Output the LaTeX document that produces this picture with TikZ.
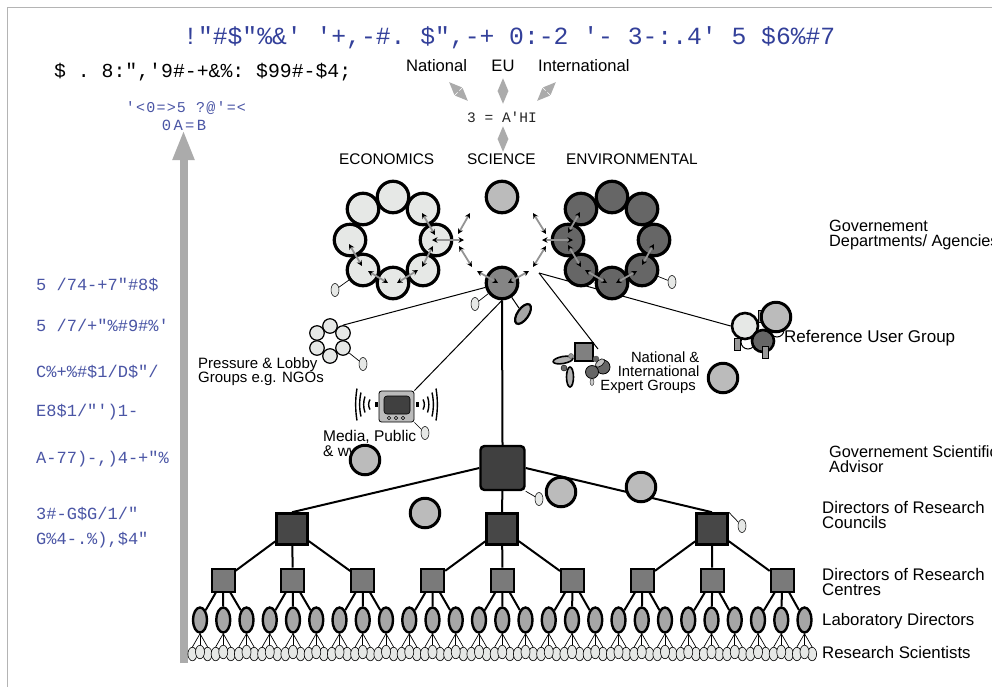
\documentclass[tikz,border=0pt]{standalone}
\usepackage{fontspec}
\setmainfont{Liberation Sans}
\newfontfamily\monof{Liberation Mono}
\newfontfamily\monoa[LetterSpace=8]{Liberation Mono}
\newfontfamily\monob[LetterSpace=15]{Liberation Mono}
\usetikzlibrary{arrows.meta,backgrounds,shapes.geometric}
\definecolor{tblue}{HTML}{33409A}
\definecolor{lblue}{HTML}{4A55A5}
\definecolor{frameg}{HTML}{B4B4B4}
\definecolor{arrowg}{HTML}{ABABAB}
\definecolor{ringl}{HTML}{E6E8E6}
\definecolor{ringd}{HTML}{666666}
\definecolor{neutral}{HTML}{BBBBBB}
\newcommand\fs[1]{\fontsize{#1pt}{#1pt}\selectfont}
\newcommand\smallarr[5]{\coordinate (#1a) at (#2,#3); \coordinate (#1b) at (#4,#5); \draw[dblsmall] (#1a) -- (#1b);}
\newcommand\grayarr[5]{\coordinate (#1a) at (#2,#3); \coordinate (#1b) at (#4,#5); \draw[dblgray] (#1a) -- (#1b);}
\tikzset{
  lab/.style={inner sep=0pt,anchor=base west,align=left,text=black},
  monotext/.style={inner sep=0pt,anchor=base west,font=\monof},
  bigc/.style={circle,draw=black,line width=3.2pt,minimum size=31.5pt,inner sep=0pt},
  ringlight/.style={bigc,fill=ringl},
  ringdark/.style={bigc,fill=ringd},
  neut/.style={circle,draw=black,line width=3pt,minimum size=29.5pt,inner sep=0pt,fill=neutral},
  tiny/.style={ellipse,draw=black,line width=.5pt,fill=ringl,minimum width=8pt,minimum height=13pt,inner sep=0pt},
  grp/.style={circle,draw=black,line width=1.2pt,fill=ringl,minimum size=14.5pt,inner sep=0pt},
  dirbox/.style={rectangle,draw=black,line width=2.6pt,fill=black!72,minimum size=31pt,inner sep=0pt},
  centbox/.style={rectangle,draw=black,line width=2pt,fill=black!52,minimum size=23pt,inner sep=0pt},
  labell/.style={ellipse,draw=black,line width=2.4pt,fill=black!35,minimum width=14pt,minimum height=25pt,inner sep=0pt},
  sci/.style={ellipse,draw=black,line width=.6pt,fill=ringl,minimum width=9pt,minimum height=13.5pt,inner sep=0pt},
  dblsmall/.style={line width=1.8pt,draw=black!42,{Stealth[black,length=5.5pt,width=5.5pt]}-{Stealth[black,length=5.5pt,width=5.5pt]}},
  dblgray/.style={line width=2.4pt,draw=arrowg,{Triangle[length=13pt,width=10pt]}-{Triangle[length=13pt,width=10pt]}},
  thickln/.style={line width=2pt,draw=black},
  thinln/.style={line width=1pt,draw=black},
  hairln/.style={line width=.7pt,draw=black},
  wave/.style={line width=1.4pt,draw=black}
}
\begin{document}
\begin{tikzpicture}[x=1pt,y=-1pt]
\clip (0,0) rectangle (992,686);
\begin{pgfonlayer}{background}
\fill[white] (0,0) rectangle (992,686);
\end{pgfonlayer}
\draw[frameg,line width=1.3pt] (7.5,700) -- (7.5,7.5) -- (1000,7.5);

% headings (text as printed)
\node[monotext,text=tblue,font=\monof\fs{24.7}] (title) at (183,44) {!"\#\$"\%\&'~'+,-\#.~\$",-+~0:-2~'-~3-:.4'~5~\$6\%\#7};
\node[monotext,text=black,font=\monof\fs{19.8}] (sub) at (54,77) {\$~.~8:",'9\#-+\&\%:~\$99\#-\$4;};
\node[monotext,text=lblue,font=\monoa\fs{15},anchor=base] (ax1) at (186,112) {'<0=>5~?@'=<};
\node[monotext,text=lblue,font=\monob\fs{15.5},anchor=base] (ax2) at (184,130) {0A=B};

% left column
\begin{scope}
\clip (0,0) rectangle (179,686);
\foreach \n/\y/\t in {l1/290/{5~/74-+7"\#8\$},l2/331/{5~/7/+"\%\#9\#\%'},l3/377/{C\%+\%\#\$1/D\$"/},l4/416/{E8\$1/"')1-},l5/463/{A-77)-,)4-+"\%},l6/519/{3\#-G\$G/1/"},l7/544/{G\%4-.\%),\$4"}}
  \node[monotext,text=lblue,font=\monof\fs{17}] (\n) at (36,\y) {\t};
\end{scope}
\fill[white] (158,276) rectangle (170,296);

% vertical axis arrow
\coordinate (axb) at (183.5,663);
\coordinate (axt) at (183.5,130);
\draw[line width=8pt,draw=arrowg,-{Triangle[length=30pt,width=20pt]}] (axb) -- (axt);

% top labels
\node[lab,font=\fs{16.6}] (nat) at (406,71) {National};
\node[lab,font=\fs{16.6},anchor=base] (eu) at (503,71) {EU};
\node[lab,font=\fs{16.6}] (intl) at (538,71) {International};
\node[monotext,text=black!85,font=\monof\fs{14.5},anchor=base] (ahi) at (502,122) {3~=~A'HI};
\node[lab,font=\fs{15.4}] (econ) at (339,164) {ECONOMICS};
\node[lab,font=\fs{15.4}] (scil) at (467,164) {SCIENCE};
\node[lab,font=\fs{15.4}] (envl) at (566,164) {ENVIRONMENTAL};
\grayarr{g1}{449}{82}{468}{101}
\grayarr{g2}{503}{78}{503}{104}
\grayarr{g3}{556}{82}{537}{101}
\grayarr{g4}{503}{126}{503}{152}

% rings
\foreach \n/\x/\y in {a1/393/197,a2/423/209,a3/436/240,a4/423/270,a5/393/283,a6/363/270,a7/350/240,a8/363/209}
  \node[ringlight] (\n) at (\x,\y) {};
\foreach \n/\x/\y in {b1/612/197,b2/642/209,b3/654/240,b4/642/270,b5/612/283,b6/581/270,b7/568/240,b8/581/209}
  \node[ringdark] (\n) at (\x,\y) {};
\node[bigc,fill=neutral] (mt) at (502,197) {};
\node[bigc,fill=black!48] (m) at (502,283) {};

% small satellites
\node[tiny] (ta) at (335,290) {};
\node[tiny] (tm) at (475,304) {};
\node[tiny] (tb) at (672,282) {};
\node[ellipse,draw=black,line width=2.2pt,fill=black!35,minimum width=11pt,minimum height=23pt,inner sep=0pt,rotate=-35] (mell) at (523,314) {};

% pressure group
\foreach \n/\x/\y in {p1/330/326,p2/343/333,p3/343/348,p4/330/356,p5/317/348,p6/317/333}
  \node[grp] (\n) at (\x,\y) {};
\node[tiny] (tp) at (363,364) {};
\node[lab,font=\fs{15}] (pl) at (198,382) {Pressure \& Lobby\\[-1pt]Groups e.g. NGOs};

% TV
\node[rectangle,rounded corners=2.5pt,draw=black,line width=.8pt,fill=neutral,minimum width=35pt,minimum height=31pt,inner sep=0pt] (tv) at (396.5,406.5) {};
\node[rectangle,rounded corners=3pt,draw=black,line width=.6pt,fill=black!75,minimum width=26pt,minimum height=18pt,inner sep=0pt] (scr) at (397,405) {};
\foreach \n/\x in {k1/389,k2/396,k3/403}
  \node[circle,draw=black,line width=.4pt,fill=neutral,minimum size=3.5pt,inner sep=0pt] (\n) at (\x,418) {};
\node[tiny] (tt) at (425,433) {};
\foreach \x/\h in {370/5,365/8,361/12,357/16}
  \draw[wave] (\x,404.5-\h) .. controls (\x-1.8,404.5-.35*\h) and (\x-1.8,404.5+.35*\h) .. (\x,404.5+\h);
\foreach \x/\h in {423/5,427.5/8,432/12,436/16}
  \draw[wave] (\x,404.5-\h) .. controls (\x+1.8,404.5-.35*\h) and (\x+1.8,404.5+.35*\h) .. (\x,404.5+\h);
\node[rectangle,fill=black,minimum width=3pt,minimum height=5pt,inner sep=0pt] (bl) at (376,404.5) {};
\node[rectangle,fill=black,minimum width=3pt,minimum height=5pt,inner sep=0pt] (br) at (417,404.5) {};
\node[lab,font=\fs{15.5}] (ml) at (323,456) {Media, Public\\[-1pt]\& www};
\node[neut] (nc1) at (365,460) {};

% expert cluster
\node[rectangle,draw=black,line width=2pt,fill=black!50,minimum size=18pt,inner sep=0pt] (e1) at (583.5,351.5) {};
\node[ellipse,draw=black,line width=1.6pt,fill=black!30,minimum width=20pt,minimum height=7pt,inner sep=0pt,rotate=10] (e2) at (563,360) {};
\node[circle,draw=black!60,line width=.5pt,fill=black!40,minimum size=5pt,inner sep=0pt] (e3) at (571,356) {};
\node[circle,draw=black,line width=.4pt,fill=black!60,minimum size=6pt,inner sep=0pt] (e4) at (564,368) {};
\node[ellipse,draw=black,line width=1.6pt,fill=black!30,minimum width=7pt,minimum height=20pt,inner sep=0pt] (e5) at (570,377) {};
\node[circle,draw=black,line width=.8pt,fill=black!60,minimum size=14pt,inner sep=0pt] (e6) at (603,367) {};
\node[circle,draw=black!70,line width=.4pt,fill=black!60,minimum size=6pt,inner sep=0pt] (e7) at (596,359) {};
\node[ellipse,draw=black,line width=.6pt,fill=black!25,minimum width=11pt,minimum height=6pt,inner sep=0pt,rotate=40] (e8) at (600,363) {};
\node[circle,draw=black,line width=.8pt,fill=black!60,minimum size=13pt,inner sep=0pt] (e9) at (592,372) {};
\node[ellipse,draw=black,line width=.3pt,fill=black!20,minimum width=4pt,minimum height=7pt,inner sep=0pt] (e10) at (592,382) {};
\node[lab,font=\fs{14.8},anchor=base east,align=right] (exl) at (699.5,376) {National \&\\[-1.5pt]International};
\node[lab,font=\fs{14.8},anchor=base east] (exl2) at (696,390) {Expert Groups};
\node[neut] (nc2) at (723,378) {};

% reference user group
\node[rectangle,draw=black,line width=.5pt,fill=black!40,minimum width=6pt,minimum height=12pt,inner sep=0pt] (r5) at (761,316) {};
\node[circle,draw=black,line width=1pt,fill=white,minimum size=14pt,inner sep=0pt] (r6) at (748,342) {};
\node[circle,draw=black,line width=1pt,fill=white,minimum size=14pt,inner sep=0pt] (r7) at (777,330) {};
\node[circle,draw=black,line width=2.6pt,fill=ringl,minimum size=26pt,inner sep=0pt] (r1) at (745,326) {};
\node[circle,draw=black,line width=2.6pt,fill=ringd,minimum size=22pt,inner sep=0pt] (r3) at (763,341) {};
\node[neut] (r2) at (776,317) {};
\node[rectangle,draw=black,line width=.5pt,fill=black!40,minimum width=6pt,minimum height=12pt,inner sep=0pt] (r4) at (737,344) {};
\node[rectangle,draw=black,line width=.5pt,fill=black!40,minimum width=6pt,minimum height=12pt,inner sep=0pt] (r8) at (765,352) {};
\node[lab,font=\fs{17}] (rl) at (784,342) {Reference User Group};

% right labels
\node[lab,font=\fs{16.3}] (rd) at (829,246) {Governement\\[-1.6pt]Departments/ Agencies};
\node[lab,font=\fs{16.3}] (rs) at (829,472) {Governement Scientific\\[-1.6pt]Advisor};
\node[lab,font=\fs{16.8}] (rc) at (822,528) {Directors of Research\\[-2pt]Councils};
\node[lab,font=\fs{16.8}] (rm) at (822,595) {Directors of Research\\[-2pt]Centres};
\node[lab,font=\fs{16.8}] (rld) at (822,625) {Laboratory Directors};
\node[lab,font=\fs{16.8}] (rsc) at (822,658) {Research Scientists};

% hierarchy
\node[rectangle,rounded corners=4pt,draw=black,line width=2.4pt,fill=black!75,minimum size=44pt,inner sep=0pt] (big) at (502.5,468) {};
\node[tiny] (tg) at (539,499) {};
\node[neut] (nc3) at (561,492) {};
\node[neut] (nc4) at (641,487) {};
\node[neut] (nc5) at (425,513) {};
\node[dirbox] (d1) at (292,529) {};
\node[dirbox] (d2) at (502,529) {};
\node[dirbox] (d3) at (712,529) {};
\node[tiny] (td) at (742,526) {};
\foreach \i in {1,...,9}{
  \pgfmathsetmacro\cx{223+(\i-1)*69.9}
  \node[centbox] (c\i) at (\cx,580) {};
}
\foreach \j in {1,...,27}{
  \pgfmathsetmacro\lx{200+(\j-1)*23.25}
  \pgfmathsetmacro\la{\lx-7.6}
  \pgfmathsetmacro\lb{\lx+7.6}
  \node[labell] (lb\j) at (\lx,620) {};
  \node[sci] (sa\j) at (\la,654) {};
  \node[sci] (sc\j) at (\lb,654) {};
  \node[sci] (sb\j) at (\lx,652) {};
}

% connectors behind the nodes
\coordinate (hub) at (539,273);
\coordinate (exe) at (598,349);
\begin{pgfonlayer}{background}
  \draw[thinln] (m) -- (p2.north);
  \draw[thinln] (m.south) -- (tv.north east);
  \draw[thinln] (hub) -- (exe);
  \draw[thinln] (hub) -- (r1.west);
  \draw[thickln] (m.south) -- (big.north);
  \draw[hairln] (a6) -- (ta);
  \draw[hairln] (m) -- (tm);
  \draw[hairln] (b4) -- (tb);
  \draw[thinln] (m) -- (mell);
  \draw[hairln] (p3) -- (tp);
  \draw[hairln] (tv.south east) -- (tt);
  \draw[hairln] (big.south east) -- (tg);
  \draw[hairln] (d3.north east) -- (td);
  \draw[thickln] (big.west) -- (d1.north);
  \draw[thickln] (big.east) -- (d3.north);
  \draw[thickln] (big) -- (d2);
  \foreach \i in {1,...,9}{
    \pgfmathtruncatemacro\dd{ceil(\i/3)}
    \draw[thickln] (d\dd) -- (c\i);
  }
  \foreach \j in {1,...,27}{
    \pgfmathtruncatemacro\pp{ceil(\j/3)}
    \draw[thickln] (c\pp) -- (lb\j);
    \draw[hairln] (lb\j.south) -- (sa\j.north);
    \draw[hairln] (lb\j.south) -- (sb\j.north);
    \draw[hairln] (lb\j.south) -- (sc\j.north);
  }
\end{pgfonlayer}

% small double arrows
\smallarr{s1}{422}{213}{435}{235}
\smallarr{s2}{433}{246}{422}{267}
\smallarr{s3}{418}{270}{397}{283}
\smallarr{s4}{388}{283}{368}{271}
\smallarr{s5}{362}{266}{349}{244}
\smallarr{s6}{432}{240}{464}{240}
\smallarr{s7}{470}{213}{458}{234}
\smallarr{s8}{459}{246}{472}{267}
\smallarr{s9}{477}{271}{498}{283}
\smallarr{s10}{529}{271}{508}{283}
\smallarr{s11}{533}{213}{546}{234}
\smallarr{s12}{546}{246}{533}{267}
\smallarr{s13}{542}{240}{573}{240}
\smallarr{s14}{580}{212}{568}{233}
\smallarr{s15}{568}{245}{581}{267}
\smallarr{s16}{585}{270}{607}{283}
\smallarr{s17}{637}{271}{616}{283}
\smallarr{s18}{654}{244}{642}{265}
\end{tikzpicture}
\end{document}
